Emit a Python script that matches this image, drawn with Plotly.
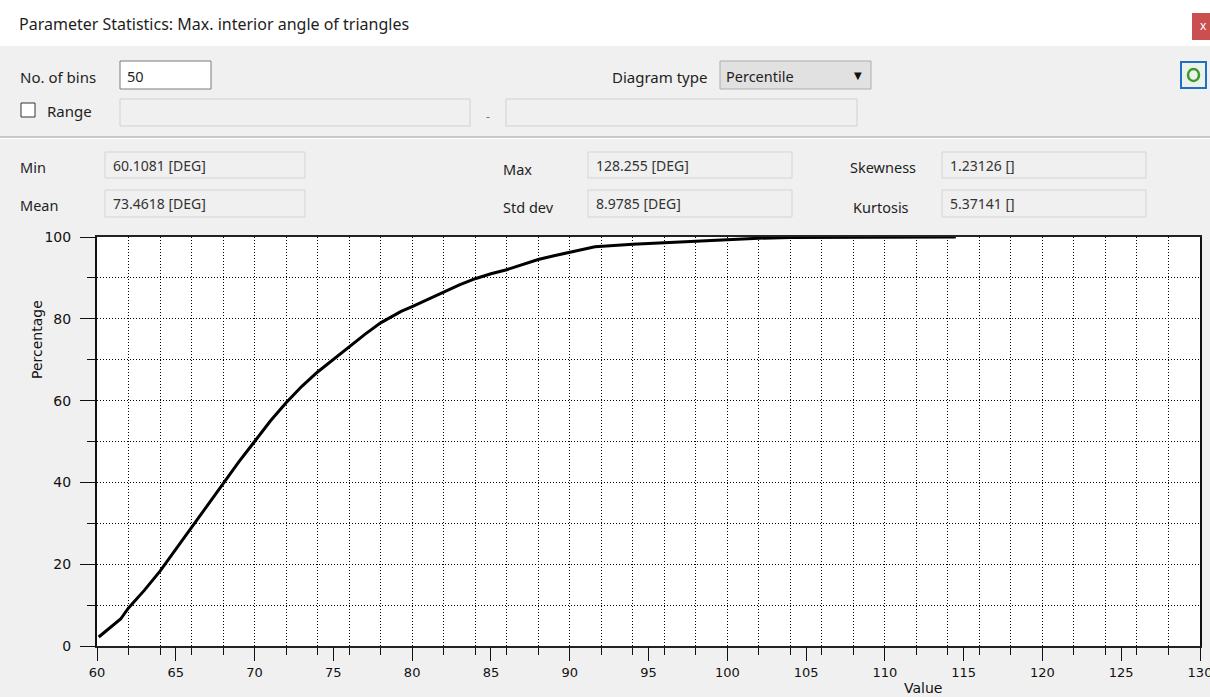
import plotly.graph_objects as go

# ---------------- data ----------------
value_deg = [60.11, 61.5, 62.0, 63.0, 64.0, 65.0, 66.0, 67.0, 68.0, 69.0, 70.0, 71.0,
             72.0, 73.0, 74.0, 75.0, 76.0, 77.0, 78.0, 79.3, 80.0, 81.0, 82.0, 83.0,
             84.0, 85.0, 86.0, 87.0, 88.0, 89.0, 90.0, 91.6, 94.0, 96.0, 98.0, 100.0,
             102.0, 104.0, 108.0, 114.5]
percentage = [2.2, 6.6, 9.3, 13.6, 18.3, 23.6, 29.0, 34.4, 39.8, 45.0, 50.0, 55.0,
              59.5, 63.5, 67.0, 70.1, 73.2, 76.2, 79.0, 81.8, 83.0, 84.8, 86.7, 88.3,
              89.8, 91.0, 92.0, 93.3, 94.5, 95.4, 96.3, 97.6, 98.2, 98.6, 99.0, 99.4,
              99.7, 99.9, 100.0, 100.0]

stat_labels = ["Min", "Mean", "Max", "Std dev", "Skewness", "Kurtosis"]
stat_values = ["60.1081 [DEG]", "73.4618 [DEG]", "128.255 [DEG]", "8.9785 [DEG]",
               "1.23126 []", "5.37141 []"]

title_text = "Parameter Statistics: Max. interior angle of triangles"
x_range = [60, 130]
y_range = [0, 100]

# ---------------- geometry helpers (pixel -> paper) ----------------
FW, FH = 1210, 697
L, R, T, B = 97, 10, 237, 51
PW, PH = FW - L - R, FH - T - B


def fx(x):
    return (x - L) / PW


def fy(y):
    return (FH - B - y) / PH


UI_FONT = "Noto Sans"
TXT = "#1e1e1e"

shapes = []
annotations = []


def rect(x0, y0, x1, y1, fill, line="rgba(0,0,0,0)", lw=1):
    shapes.append(dict(type="rect", xref="paper", yref="paper",
                       x0=fx(x0), x1=fx(x1), y0=fy(y1), y1=fy(y0),
                       fillcolor=fill, line=dict(color=line, width=lw), layer="above"))


def hline(x0, x1, y, color, lw=1):
    shapes.append(dict(type="line", xref="paper", yref="paper",
                       x0=fx(x0), x1=fx(x1), y0=fy(y), y1=fy(y),
                       line=dict(color=color, width=lw), layer="above"))


def text(x, y, s, size=15, color=TXT, anchor="left", family=UI_FONT, angle=0):
    annotations.append(dict(xref="paper", yref="paper", x=fx(x), y=fy(y), text=s,
                            showarrow=False, xanchor=anchor, yanchor="middle",
                            textangle=angle,
                            font=dict(family=family, size=size, color=color)))


# title bar
rect(0, 0, FW, 46, "#ffffff")
text(17, 24, title_text, size=16)
rect(1192, 13, 1212, 40, "#c9504f")
text(1203, 26, "x", size=12, color="#ffffff", anchor="center")

# first control row
text(18, 77, "No. of bins", size=15)
rect(120, 61, 211, 89, "#ffffff", "#7a7a7a", 1)
text(125, 76, "50", size=14.5)
text(610, 77, "Diagram type", size=15)
rect(720, 61, 871, 89, "#e1e1e1", "#adadad", 1)
text(724, 76, "Percentile", size=14.5)
text(858, 75, "▼", size=10, color="#111111", anchor="center", family="DejaVu Sans")
# refresh button
rect(1181, 62, 1206, 88, "#eaf2ea", "#1f6fc2", 2)
shapes.append(dict(type="circle", xref="paper", yref="paper",
                   x0=fx(1188), x1=fx(1199), y0=fy(81), y1=fy(69),
                   line=dict(color="#3d9a2c", width=2.5), layer="above"))

# range row
rect(21, 103, 35, 117, "#ffffff", "#333333", 1)
text(45, 111, "Range", size=15)
rect(120, 99, 470, 126, "#f0f0f0", "#d0d0d0", 1)
text(488, 117, "-", size=12, color="#777777", anchor="center")
rect(506, 99, 857, 126, "#f0f0f0", "#d0d0d0", 1)

# separator
hline(0, FW, 137, "#a0a0a0", 1)
hline(0, FW, 138.5, "#ffffff", 1)

# statistics boxes
stat_label_pos = [(18, 167), (18, 205), (501, 169), (501, 207), (848, 167), (851, 207)]
stat_box_pos = [(105, 152, 305, 178), (105, 190, 305, 217),
                (588, 152, 792, 178), (588, 190, 792, 217),
                (942, 152, 1146, 178), (942, 190, 1146, 217)]
for lab, val, (lx, ly), (bx0, by0, bx1, by1) in zip(stat_labels, stat_values,
                                                    stat_label_pos, stat_box_pos):
    text(lx, ly, lab, size=14.5)
    rect(bx0, by0, bx1, by1, "#f0f0f0", "#d4d4d4", 1)
    text(bx0 + 6, (by0 + by1) / 2, val, size=14, color="#333333")

# axis titles
text(37, 340, "Percentage", size=14, color="#111111", anchor="center",
     family="DejaVu Sans", angle=-90)
text(923, 688, "Value", size=14, color="#111111", anchor="center", family="DejaVu Sans")

# ---------------- figure ----------------
fig = go.Figure()
fig.add_trace(go.Scatter(x=value_deg, y=percentage, mode="lines",
                         line=dict(color="#000000", width=3),
                         showlegend=False, hoverinfo="skip"))
# carrier for the labelled (major-tick) axes
fig.add_trace(go.Scatter(x=value_deg, y=percentage, mode="lines", xaxis="x2", yaxis="y2",
                         line=dict(color="rgba(0,0,0,0)", width=0),
                         showlegend=False, hoverinfo="skip"))

tickfont = dict(family="DejaVu Sans", size=13, color="#111111")
fig.update_layout(
    width=FW, height=FH,
    margin=dict(l=L, r=R, t=T, b=B, pad=0, autoexpand=False),
    paper_bgcolor="#f0f0f0", plot_bgcolor="#ffffff",
    showlegend=False,
    xaxis=dict(range=x_range, tick0=60, dtick=2, ticks="outside", ticklen=7,
               tickcolor="#111111", showticklabels=False, automargin=False,
               showgrid=True, gridcolor="#000000", griddash="1px,2px", gridwidth=1,
               zeroline=False, showline=True, linecolor="#222222", linewidth=1.5,
               mirror=True, fixedrange=True),
    yaxis=dict(range=y_range, tick0=0, dtick=10, ticks="outside", ticklen=8,
               tickcolor="#111111", showticklabels=False, automargin=False,
               showgrid=True, gridcolor="#000000", griddash="1px,2px", gridwidth=1,
               zeroline=False, showline=True, linecolor="#111111", linewidth=2,
               mirror=True, fixedrange=True),
    xaxis2=dict(range=x_range, overlaying="x", anchor="y", side="bottom",
                tick0=60, dtick=5, ticks="outside", ticklen=14, tickcolor="#111111",
                tickfont=tickfont, showgrid=False, zeroline=False, showline=False,
                ticklabeloverflow="allow", automargin=False, fixedrange=True),
    yaxis2=dict(range=y_range, overlaying="y", anchor="x", side="left",
                tick0=0, dtick=20, ticks="outside", ticklen=16, tickcolor="#111111",
                tickfont=dict(family="DejaVu Sans", size=14, color="#111111"),
                showgrid=False, zeroline=False, showline=False,
                ticklabelstandoff=6, automargin=False, fixedrange=True),
    shapes=shapes,
    annotations=annotations,
)

fig.write_html("out.html", config={"displayModeBar": False},
               post_script="document.body.style.margin='0';"
                           "document.body.style.overflow='hidden';")
